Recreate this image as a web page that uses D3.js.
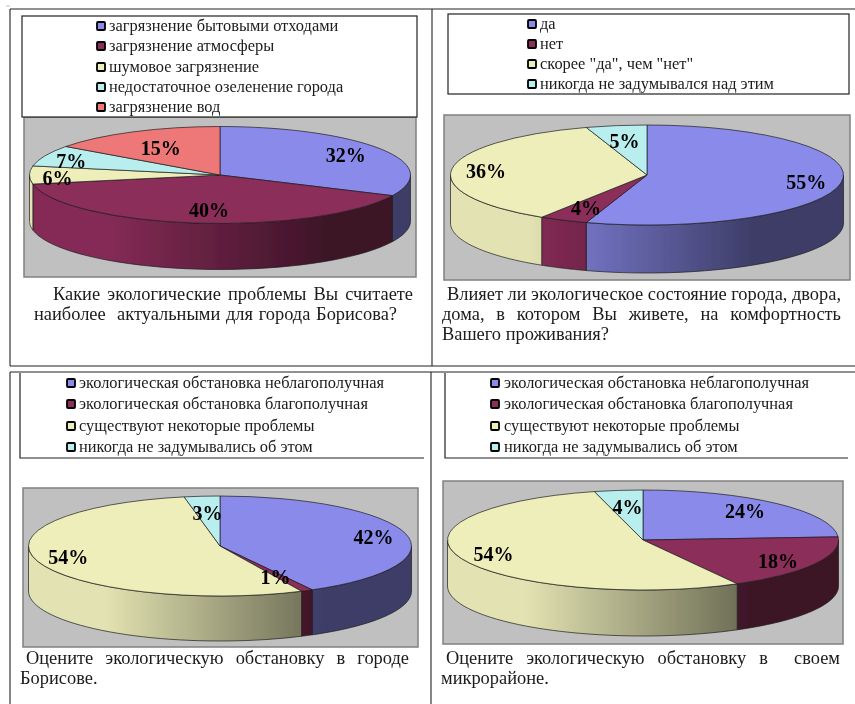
<!DOCTYPE html>
<html>
<head>
<meta charset="utf-8">
<script src="https://cdn.jsdelivr.net/npm/d3@7"></script>
<style>
  html, body { margin: 0; padding: 0; background: #fff; overflow: hidden; }
  text { font-family: "Liberation Serif", serif; fill: #1a1a1a; }
  .legend-text { font-size: 16.4px; }
  .caption { font-size: 18.4px; }
  .value-label { font-size: 20px; font-weight: bold; fill: #000; }
</style>
</head>
<body>
<div id="chart"></div>
<script>
const sliceColors = ["#8a8aeb", "#8c2d5a", "#eeeebb", "#b8eeee", "#ee7777"];

const problemLabels = ["загрязнение бытовыми отходами", "загрязнение атмосферы", "шумовое загрязнение", "недостаточное озеленение города", "загрязнение вод"];
const problemValues = [32, 40, 6, 7, 15];

const comfortLabels = ["да", "нет", "скорее \"да\", чем \"нет\"", "никогда не задумывался над этим"];
const comfortValues = [55, 4, 36, 5];

const situationLabels = ["экологическая обстановка неблагополучная", "экологическая обстановка благополучная", "существуют некоторые проблемы", "никогда не задумывались об этом"];
const cityValues = [42, 1, 54, 3];
const districtValues = [24, 18, 54, 4];

const panels = [
  {
    labels: problemLabels, values: problemValues,
    plot: [24, 117, 416, 277], center: [220, 175], rx: 190.5, ry: 48.5, depth: 46,
    legendBox: [22, 16, 417, 117, true], swatchX: 97, textX: 109, legendY: [26, 46, 67, 87, 107],
    nudge: [[-3, 1], [8, -3], [-10, 3], [-9, 2], [10, 8]],
    caption: [
      { text: "Какие экологические проблемы Вы считаете", x0: 53, x1: 413, y: 300 },
      { text: "наиболее  актуальными для города Борисова?", x0: 34, x1: 397, y: 320 }
    ]
  },
  {
    labels: comfortLabels, values: comfortValues,
    plot: [444, 115, 850, 280], center: [647, 175], rx: 196.5, ry: 50, depth: 48,
    legendBox: [448, 14, 849, 94, true], swatchX: 528, textX: 540, legendY: [24, 44, 64, 84],
    nudge: [[4, 1], [6, -3], [-5, 1], [2, 6]],
    caption: [
      { text: "Влияет ли экологическое состояние города, двора,", x0: 447, x1: 841, y: 300 },
      { text: "дома, в котором Вы живете, на комфортность", x0: 442, x1: 841, y: 320 },
      { text: "Вашего проживания?", x0: 442, y: 340 }
    ]
  },
  {
    labels: situationLabels, values: cityValues,
    plot: [23, 488, 418, 647], center: [220, 546], rx: 191.5, ry: 50, depth: 45,
    legendBox: [20, 373, 424, 458, false], swatchX: 67, textX: 79, legendY: [383, 404, 426, 447],
    nudge: [[5, 1], [-14, -4], [-6, -1], [2, 7]],
    caption: [
      { text: "Оцените экологическую обстановку в городе", x0: 26, x1: 409, y: 664 },
      { text: "Борисове.", x0: 20, y: 684 }
    ]
  },
  {
    labels: situationLabels, values: districtValues,
    plot: [443, 481, 843, 644], center: [643, 540], rx: 195.5, ry: 50, depth: 46,
    legendBox: [445, 373, 848, 458, false], swatchX: 491, textX: 504, legendY: [383, 404, 426, 447],
    nudge: [[-5, 1], [-2, 2], [-4, 0], [4, 7]],
    caption: [
      { text: "Оцените экологическую обстановку в  своем", x0: 446, x1: 840, y: 664 },
      { text: "микрорайоне.", x0: 441, y: 684 }
    ]
  }
];

const svg = d3.select("#chart").append("svg")
  .attr("width", 855)
  .attr("height", 704)
  .style("display", "block");

const defs = svg.append("defs");

// scanned look, everything is slightly soft in the source
defs.append("filter").attr("id", "soft")
  .attr("x", 0).attr("y", 0).attr("width", 1).attr("height", 1)
  .append("feGaussianBlur").attr("stdDeviation", 0.4);

const root = svg.append("g").attr("filter", "url(#soft)");
root.append("rect").attr("width", 855).attr("height", 704).attr("fill", "#fff");

// table lines of the document
const tableLines = [
  [10, 9, 855, 9], [10, 9, 10, 366], [432, 9, 432, 366], [10, 366, 855, 366],
  [10, 372, 855, 372], [10, 372, 10, 704], [431, 372, 431, 704]
];
root.selectAll(".table-line").data(tableLines).join("line")
  .attr("class", "table-line")
  .attr("x1", d => d[0]).attr("y1", d => d[1])
  .attr("x2", d => d[2]).attr("y2", d => d[3])
  .attr("stroke", "#222").attr("stroke-width", 1.1);
root.append("line").attr("x1", 6).attr("y1", 6).attr("x2", 10).attr("y2", 6)
  .attr("stroke", "#bbb");

const pie = d3.pie().sort(null).value(d => d).startAngle(0).endAngle(2 * Math.PI);

function shade(color, k) {
  const c = d3.rgb(color);
  return d3.rgb(c.r * k, c.g * k, c.b * k).formatHex();
}

panels.forEach(function(panel, p) {
  const g = root.append("g").attr("class", "panel");
  const [cx, cy] = panel.center;

  // plot background
  g.append("rect")
    .attr("x", panel.plot[0]).attr("y", panel.plot[1])
    .attr("width", panel.plot[2] - panel.plot[0])
    .attr("height", panel.plot[3] - panel.plot[1])
    .attr("fill", "#c0c0c0")
    .attr("stroke", "#808080").attr("stroke-width", 1.5);

  // legend box
  const [lx0, ly0, lx1, ly1, closed] = panel.legendBox;
  if (closed) {
    g.append("rect")
      .attr("x", lx0).attr("y", ly0)
      .attr("width", lx1 - lx0).attr("height", ly1 - ly0)
      .attr("fill", "#fff")
      .attr("stroke", "#222").attr("stroke-width", 1.2);
  } else {
    g.append("path")
      .attr("d", d3.line()([[lx0, ly0], [lx0, ly1], [lx1, ly1]]))
      .attr("fill", "none")
      .attr("stroke", "#222").attr("stroke-width", 1.2);
  }

  const legendItems = g.selectAll(".legend-item").data(panel.labels).join("g")
    .attr("class", "legend-item")
    .attr("transform", (d, i) => "translate(0," + panel.legendY[i] + ")");
  legendItems.append("rect")
    .attr("x", panel.swatchX).attr("y", -4)
    .attr("width", 8).attr("height", 8).attr("rx", 1)
    .attr("fill", (d, i) => sliceColors[i])
    .attr("stroke", "#000").attr("stroke-width", 1.8);
  legendItems.append("text")
    .attr("class", "legend-text")
    .attr("x", panel.textX).attr("y", 5)
    .text(d => d);

  // pie
  const x = d3.scaleLinear().domain([-1, 1]).range([cx - panel.rx, cx + panel.rx]);
  const y = d3.scaleLinear().domain([-1, 1]).range([cy - panel.ry, cy + panel.ry]);
  const arcs = pie(panel.values);

  // gradient runs across the whole pie, not per slice
  panel.values.forEach(function(v, i) {
    const grad = defs.append("linearGradient")
      .attr("id", "side-" + p + "-" + i)
      .attr("gradientUnits", "userSpaceOnUse")
      .attr("x1", x(-0.6)).attr("y1", 0)
      .attr("x2", x(0.55)).attr("y2", 0);
    grad.append("stop").attr("offset", "0%").attr("stop-color", shade(sliceColors[i], 0.95));
    grad.append("stop").attr("offset", "100%").attr("stop-color", shade(sliceColors[i], 0.44));
  });

  const wall = d3.area()
    .x(a => x(Math.sin(a)))
    .y0(a => y(-Math.cos(a)))
    .y1(a => y(-Math.cos(a)) + panel.depth);

  arcs.forEach(function(d) {
    const a0 = Math.max(d.startAngle, Math.PI / 2);
    const a1 = Math.min(d.endAngle, 3 * Math.PI / 2);
    if (a1 <= a0) return;
    const steps = d3.range(0, 41).map(k => a0 + (a1 - a0) * k / 40);
    g.append("path")
      .attr("d", wall(steps))
      .attr("fill", "url(#side-" + p + "-" + d.index + ")")
      .attr("stroke", "#1c1c1c").attr("stroke-width", 0.7);
  });

  const arc = d3.arc().innerRadius(0).outerRadius(panel.rx);
  g.append("g")
    .attr("transform", "translate(" + cx + "," + cy + ") scale(1," + (panel.ry / panel.rx) + ")")
    .selectAll("path").data(arcs).join("path")
    .attr("d", arc)
    .attr("fill", d => sliceColors[d.index])
    .attr("stroke", "#1c1c1c").attr("stroke-width", 0.7)
    .attr("vector-effect", "non-scaling-stroke");

  g.selectAll(".value-label").data(arcs).join("text")
    .attr("class", "value-label")
    .attr("text-anchor", "middle")
    .attr("dy", "0.33em")
    .attr("x", d => x(0.8 * Math.sin((d.startAngle + d.endAngle) / 2)) + panel.nudge[d.index][0])
    .attr("y", d => y(-0.8 * Math.cos((d.startAngle + d.endAngle) / 2)) + panel.nudge[d.index][1])
    .text(d => d.value + "%");

  // question under the chart, justified lines get word spacing
  panel.caption.forEach(function(line) {
    const t = g.append("text")
      .attr("class", "caption")
      .attr("x", line.x0).attr("y", line.y)
      .style("white-space", "pre")
      .text(line.text);
    if (line.x1) {
      const gaps = line.text.split(" ").length - 1;
      const extra = (line.x1 - line.x0 - t.node().getComputedTextLength()) / gaps;
      t.attr("word-spacing", extra);
    }
  });
});
</script>
</body>
</html>
